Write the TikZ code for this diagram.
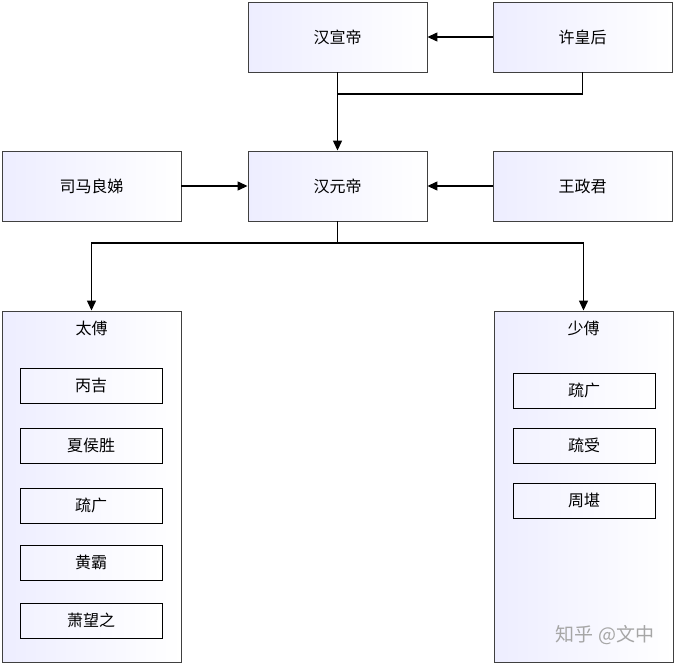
\documentclass[tikz,border=0pt]{standalone}
\usepackage{fontspec}
\setmainfont{Noto Sans CJK SC}
\usetikzlibrary{arrows.meta}
\tikzset{
  person/.style={draw=black!75, line width=0.9pt, left color=blue!7!white, right color=white,
    minimum width=179pt, minimum height=70pt, inner sep=0pt, font=\fontsize{16}{19}\selectfont},
  office/.style={draw=black!75, line width=0.9pt, left color=blue!7!white, right color=white,
    minimum width=179pt, minimum height=351pt, inner sep=0pt},
  member/.style={draw=black, line width=0.9pt, left color=blue!5!white, right color=white,
    minimum width=142pt, minimum height=35pt, inner sep=0pt, font=\fontsize{16}{19}\selectfont},
  link/.style={line width=1.3pt, -{Triangle[length=10pt,width=9pt]}},
  plain/.style={line width=1.3pt}
}
\begin{document}
\begin{tikzpicture}[x=1pt,y=-1pt]
\useasboundingbox (0,0) rectangle (675,664);
\node[person] (xuandi) at (337.5,37) {汉宣帝};
\node[person] (xuhou) at (582.5,37) {许皇后};
\node[person] (sima) at (91.5,186) {司马良娣};
\node[person] (yuandi) at (337.5,186) {汉元帝};
\node[person] (wang) at (582.5,186) {王政君};
\node[office] (taifu) at (91.5,486.5) {};
\node[office] (shaofu) at (583.5,486.5) {};
\node[font=\fontsize{16}{19}\selectfont] (taifut) at (91.5,328) {太傅};
\node[font=\fontsize{16}{19}\selectfont] (shaofut) at (583.5,328) {少傅};
% members of taifu
\node[member] (bingji) at (91,385.5) {丙吉};
\node[member] (xiahou) at (91,445.5) {夏侯胜};
\node[member] (shuguang) at (91,505.5) {疏广};
\node[member] (huangba) at (91,562.5) {黄霸};
\node[member] (xiao) at (91,620.5) {萧望之};
% members of shaofu
\node[member] (shuguangb) at (584,390.5) {疏广};
\node[member] (shushou) at (584,445.5) {疏受};
\node[member] (zhoukan) at (584,500.5) {周堪};
% connectors
\coordinate (join) at (337.5,94);
\coordinate (fork) at (337.5,243);
\draw[link] (xuhou) -- (xuandi);
\draw[link] (xuandi) -- (yuandi);
\draw[plain] (xuhou.south) |- (join);
\draw[link] (sima) -- (yuandi);
\draw[link] (wang) -- (yuandi);
\draw[plain] (yuandi.south) -- (fork);
\draw[link] (fork) -| (taifu.north);
\draw[link] (fork) -| (shaofu.north);
\node[text=black!35, font=\fontsize{19}{22}\selectfont] (mark) at (605,635) {知乎 @文中};
\end{tikzpicture}
\end{document}
